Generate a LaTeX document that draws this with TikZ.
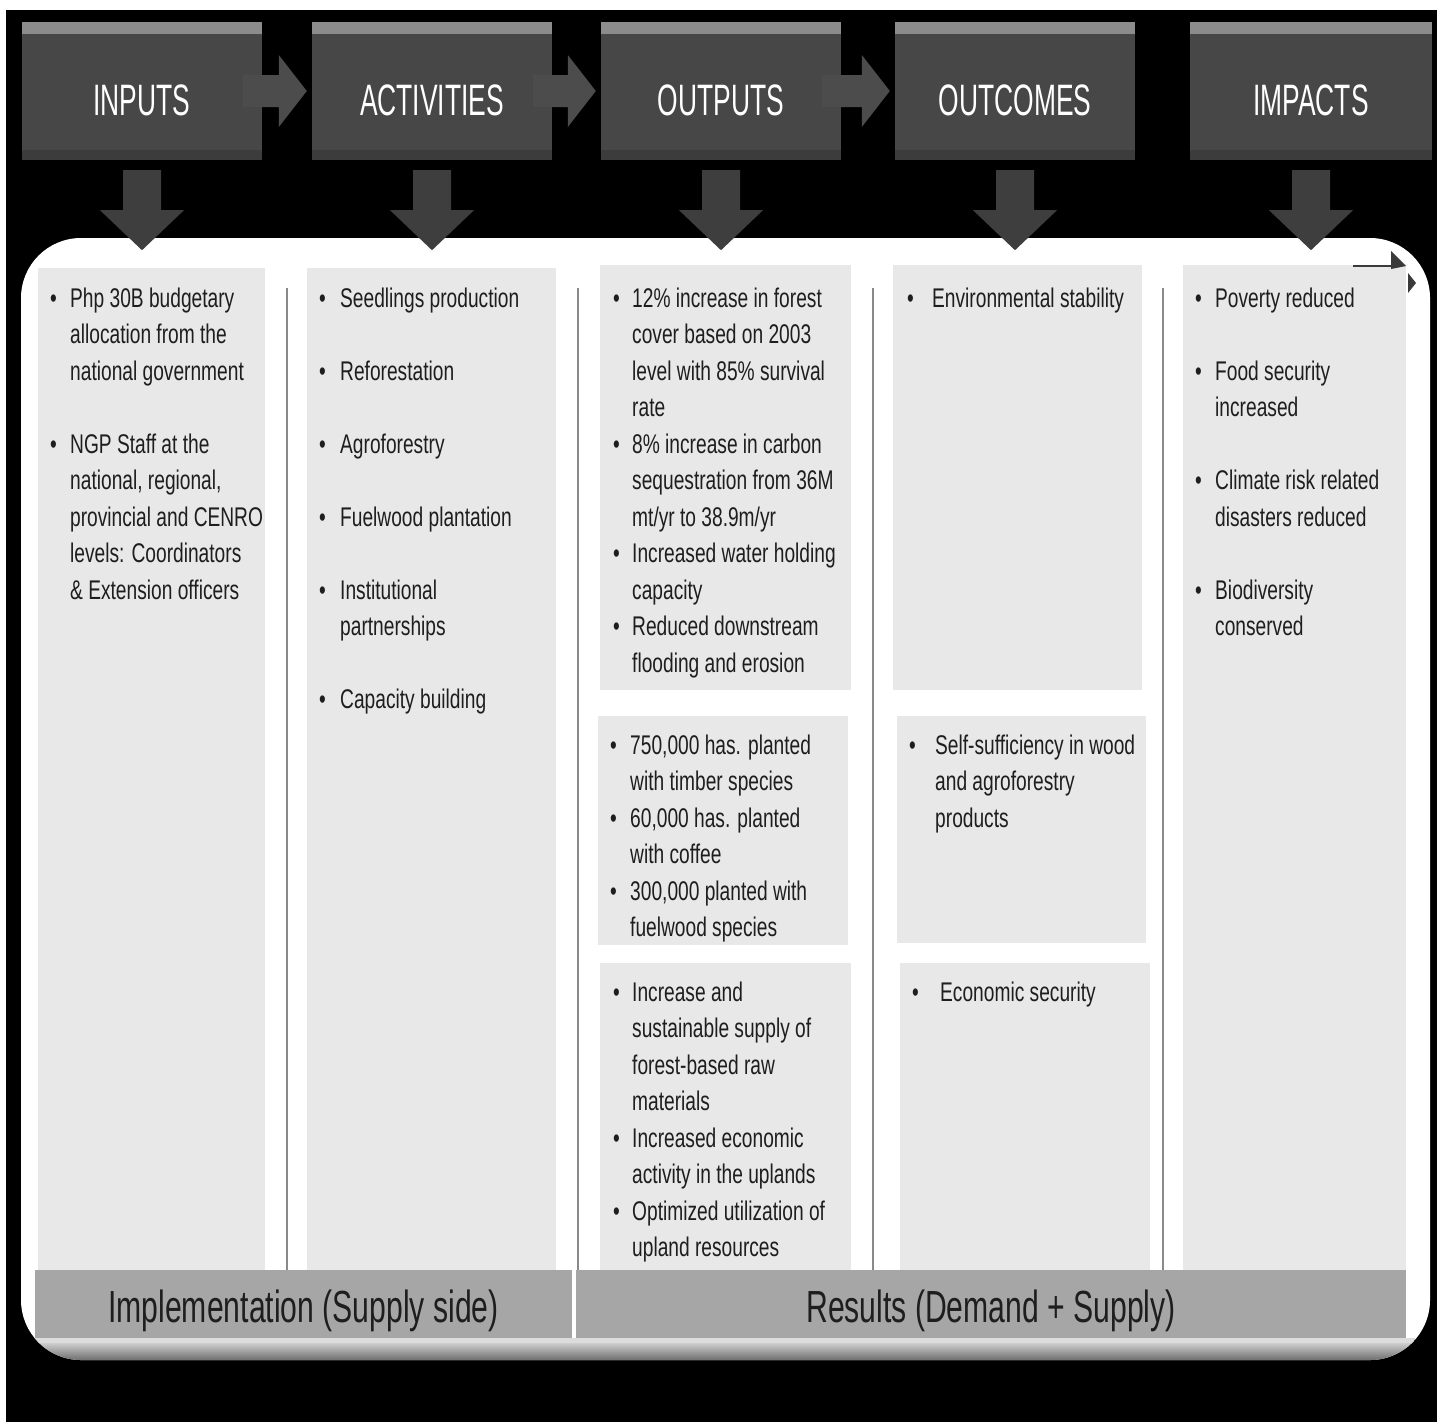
\documentclass[tikz,border=0pt]{standalone}
\usepackage{fontspec}
\setmainfont{Liberation Sans}
\newfontfamily\bodyfont{Liberation Sans}[FakeStretch=0.71]
\newfontfamily\headfont{Liberation Sans}[FakeStretch=0.60]
\newfontfamily\barfont{Liberation Sans}[FakeStretch=0.67]
\usetikzlibrary{calc}
\definecolor{hdr}{HTML}{474747}
\definecolor{hdrtop}{HTML}{8C8C8C}
\definecolor{hdrbot}{HTML}{3C3C3C}
\definecolor{harr}{HTML}{4C4C4C}
\definecolor{varr}{HTML}{3E3E3E}
\definecolor{colbg}{HTML}{E8E8E8}
\definecolor{sepc}{HTML}{8A8A8A}
\definecolor{barbg}{HTML}{A6A6A6}
\definecolor{txt}{HTML}{1E1E1E}
\definecolor{glyph}{HTML}{3A3A3A}
\definecolor{shline}{HTML}{DCDCDC}
\definecolor{shtop}{HTML}{CDCDCD}
\definecolor{shbot}{HTML}{696969}
\newlength\bw
\newcommand\bul{\makebox[\bw][l]{•}}
\newcommand\cnt{\hspace*{\bw}}
\newcommand\harrow[2]{%
  \fill[harr] let \p1=(#1.east), \p2=(#2.west) in
   (\x1-19pt,\y1+16pt) -- (\x2-33pt,\y1+16pt) -- (\x2-33pt,\y1+36pt) -- (\x2-5pt,\y1)
   -- (\x2-33pt,\y1-36pt) -- (\x2-33pt,\y1-16pt) -- (\x1-19pt,\y1-16pt) -- cycle;}
\newcommand\varrow[1]{%
  \fill[varr] let \p1=(#1.south) in
   (\x1-19pt,\y1-10pt) -- (\x1+19pt,\y1-10pt) -- (\x1+19pt,\y1-50pt) -- (\x1+42pt,\y1-50pt)
   -- (\x1,\y1-90pt) -- (\x1-42pt,\y1-50pt) -- (\x1-19pt,\y1-50pt) -- cycle;}
\tikzset{
  header/.style={fill=hdr, minimum width=240pt, minimum height=138pt, inner sep=0pt,
    text=white, text height=48pt, text depth=0pt, font=\headfont\fontsize{44}{50}\selectfont},
  coltext/.style={anchor=base west, inner sep=0pt, text=txt,
    font=\bodyfont\fontsize{27}{36.5}\selectfont},
  barlabel/.style={fill=barbg, inner sep=0pt, minimum height=68pt, text=txt,
    text height=36pt, text depth=0pt, font=\barfont\fontsize{45}{50}\selectfont},
}
\begin{document}
\begin{tikzpicture}[x=1pt,y=-1pt]
\useasboundingbox (0,0) rectangle (1437,1422);
% background
\fill[black] (0,0) rectangle (1437,1422);
\fill[white] (0,0) rectangle (1437,10);
\fill[white] (0,0) rectangle (6,1422);
% white panel
\fill[white, rounded corners=60pt] (21,238) rectangle (1430,1360);
\begin{scope}
  \clip[rounded corners=60pt] (21,238) rectangle (1430,1360);
  \fill[shline] (30,1338) rectangle (1415,1343);
  \shade[top color=shtop, bottom color=shbot] (30,1343) rectangle (1415,1361);
\end{scope}
% columns
\fill[colbg] (38,268) rectangle (265,1272);
\fill[colbg] (307,268) rectangle (556,1272);
\fill[colbg] (600,265) rectangle (851,690);
\fill[colbg] (598,716) rectangle (848,945);
\fill[colbg] (600,963) rectangle (851,1272);
\fill[colbg] (893,265) rectangle (1142,690);
\fill[colbg] (897,716) rectangle (1146,943);
\fill[colbg] (900,963) rectangle (1150,1272);
\fill[colbg] (1183,265) rectangle (1406,1272);
% separators
\foreach \sx in {287,578,873,1163}
  \draw[sepc, line width=2pt] (\sx,288) -- (\sx,1272);
% bottom bars
\node[barlabel, minimum width=537pt] (impl) at (303.5,1304) {Implementation (Supply side)};
\node[barlabel, minimum width=830pt] (res) at (991,1304) {Results (Demand + Supply)};
% top-right small arrow glyph
\draw[glyph, line width=2pt] (1353,266) -- (1394,266);
\fill[glyph] (1391,251) -- (1406,266) -- (1391,269) -- cycle;
\fill[glyph] (1408,273) -- (1416,283) -- (1408,293) -- cycle;
% headers
\node[header] (hin) at (142,91) {INPUTS};
\node[header] (hac) at (432,91) {ACTIVITIES};
\node[header] (hou) at (721,91) {OUTPUTS};
\node[header] (hoc) at (1015,91) {OUTCOMES};
\node[header, minimum width=242pt] (him) at (1311,91) {IMPACTS};
\foreach \h in {hin,hac,hou,hoc,him}{
  \fill[hdrtop] (\h.north west) rectangle ($(\h.north east)+(0,12)$);
  \fill[hdrbot] ($(\h.south west)+(0,-10)$) rectangle (\h.south east);
}
% horizontal arrows
\harrow{hin}{hac}
\harrow{hac}{hou}
\harrow{hou}{hoc}
% down arrows
\varrow{hin}
\varrow{hac}
\varrow{hou}
\varrow{hoc}
\varrow{him}
% column texts
\node[coltext] (tin) at (50,307) {\setlength\bw{20pt}\begin{tabular}[t]{@{}l@{}}
\bul Php 30B budgetary\\
\cnt allocation from the\\
\cnt national government\\
\\
\bul NGP Staff at the\\
\cnt national, regional,\\
\cnt provincial and CENRO\\
\cnt levels: Coordinators\\
\cnt \& Extension officers
\end{tabular}};
\node[coltext] (tac) at (319,307) {\setlength\bw{21pt}\begin{tabular}[t]{@{}l@{}}
\bul Seedlings production\\
\\
\bul Reforestation\\
\\
\bul Agroforestry\\
\\
\bul Fuelwood plantation\\
\\
\bul Institutional\\
\cnt partnerships\\
\\
\bul Capacity building
\end{tabular}};
\node[coltext] (tou1) at (613,307) {\setlength\bw{19pt}\begin{tabular}[t]{@{}l@{}}
\bul 12\% increase in forest\\
\cnt cover based on 2003\\
\cnt level with 85\% survival\\
\cnt rate\\
\bul 8\% increase in carbon\\
\cnt sequestration from 36M\\
\cnt mt/yr to 38.9m/yr\\
\bul Increased water holding\\
\cnt capacity\\
\bul Reduced downstream\\
\cnt flooding and erosion
\end{tabular}};
\node[coltext] (tou2) at (610,754) {\setlength\bw{20pt}\begin{tabular}[t]{@{}l@{}}
\bul 750,000 has. planted\\
\cnt with timber species\\
\bul 60,000 has. planted\\
\cnt with coffee\\
\bul 300,000 planted with\\
\cnt fuelwood species
\end{tabular}};
\node[coltext] (tou3) at (613,1001) {\setlength\bw{19pt}\begin{tabular}[t]{@{}l@{}}
\bul Increase and\\
\cnt sustainable supply of\\
\cnt forest-based raw\\
\cnt materials\\
\bul Increased economic\\
\cnt activity in the uplands\\
\bul Optimized utilization of\\
\cnt upland resources
\end{tabular}};
\node[coltext] (toc1) at (907,307) {\setlength\bw{25pt}\begin{tabular}[t]{@{}l@{}}
\bul Environmental stability
\end{tabular}};
\node[coltext] (toc2) at (909,754) {\setlength\bw{26pt}\begin{tabular}[t]{@{}l@{}}
\bul Self-sufficiency in wood\\
\cnt and agroforestry\\
\cnt products
\end{tabular}};
\node[coltext] (toc3) at (912,1001) {\setlength\bw{28pt}\begin{tabular}[t]{@{}l@{}}
\bul Economic security
\end{tabular}};
\node[coltext] (tim) at (1195,307) {\setlength\bw{20pt}\begin{tabular}[t]{@{}l@{}}
\bul Poverty reduced\\
\\
\bul Food security\\
\cnt increased\\
\\
\bul Climate risk related\\
\cnt disasters reduced\\
\\
\bul Biodiversity\\
\cnt conserved
\end{tabular}};
\end{tikzpicture}
\end{document}
